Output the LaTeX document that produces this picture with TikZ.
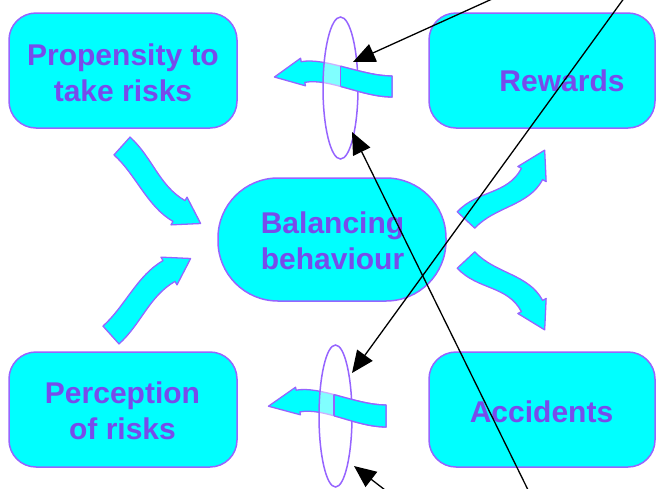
\documentclass[tikz,border=0pt]{standalone}
\usepackage{fontspec}
\setmainfont{Liberation Sans}
\usetikzlibrary{calc,arrows.meta,shapes.geometric}
\definecolor{boxcyan}{RGB}{0,255,255}
\definecolor{edgepurple}{RGB}{150,100,255}
\definecolor{txtpurple}{RGB}{120,75,235}
% #1 tail centre, #2 tail angle, #3 head base centre, #4 head angle,
% #5 head length, #6 body half width, #7 head half width, #8,#9 control lengths
\newcommand{\wavypath}[9]{($(#1)+(#2+90:#6)$) .. controls +(#2:#8) and +(#4+180:#9) .. ($(#3)+(#4+90:#6)$) -- ($(#3)+(#4+90:#7)$) -- ($(#3)+(#4:#5)$) -- ($(#3)+(#4-90:#7)$) -- ($(#3)+(#4-90:#6)$) .. controls +(#4+180:#9) and +(#2:#8) .. ($(#1)+(#2-90:#6)$) -- cycle}
\tikzset{
  box/.style={draw=edgepurple, fill=boxcyan, line width=1.5pt, rounded corners=27pt, inner sep=0pt},
  lbl/.style={text=txtpurple, font=\fontsize{30}{36}\selectfont\bfseries, align=center, inner sep=0pt},
  wavy/.style={draw=edgepurple, fill=boxcyan, line width=1.3pt, line join=round},
  ring/.style={ellipse, draw=edgepurple, line width=1.5pt, fill=white, fill opacity=0.5, inner sep=0pt},
  ptr/.style={draw=black, line width=1.3pt, -{Triangle[length=22pt,width=19pt]}},
}
\begin{document}
\begin{tikzpicture}[x=1pt,y=-1pt]
\clip (0,0) rectangle (656,488);
\fill[white] (0,0) rectangle (656,488);
% boxes
\node[box, minimum width=228pt, minimum height=115pt] (prop) at (123,70.5) {};
\node[box, minimum width=226pt, minimum height=115pt] (rew) at (542,70.5) {};
\node[box, rounded corners=60pt, minimum width=228pt, minimum height=123pt] (bal) at (332,239.5) {};
\node[box, minimum width=228pt, minimum height=115pt] (perc) at (123,409.5) {};
\node[box, minimum width=226pt, minimum height=115pt] (acc) at (542,409.5) {};
% labels
\node[lbl, anchor=north] (propt) at (123,43.3) {Propensity to\\take risks};
\node[lbl, anchor=base] (rewt) at (562,91) {Rewards};
\node[lbl, anchor=north] (balt) at (332.5,211.3) {Balancing\\behaviour};
\node[lbl, anchor=north] (perct) at (122.5,381.3) {Perception\\of risks};
\node[lbl, anchor=base] (acct) at (541.5,422) {Accidents};
% wavy block arrows
\draw[wavy] \wavypath{122,146}{42}{179,211}{30}{25}{12}{16}{30}{30};
\draw[wavy] \wavypath{111,335}{-42}{169,271}{-30}{25}{12}{16}{30}{30};
\draw[wavy] \wavypath{466,220}{-47}{532,174}{-62}{27}{12}{16}{30}{30};
\draw[wavy] \wavypath{466,260}{47}{532,306}{62}{27}{12}{16}{30}{30};
% top filter
\draw[wavy] \wavypath{392,86.5}{180}{303,72}{170}{29}{10.5}{14}{30}{25};
\node[ring, minimum width=35pt, minimum height=142pt] (f1) at (340.5,88) {};
\begin{scope}
  \clip (340.5,0) rectangle (420,200);
  \draw[wavy] \wavypath{392,86.5}{180}{303,72}{170}{29}{10.5}{14}{30}{25};
\end{scope}
\begin{scope}
  \clip \wavypath{392,86.5}{180}{303,72}{170}{29}{10.5}{14}{30}{25};
  \draw[edgepurple, line width=1.3pt] (340.5,40) -- (340.5,130);
\end{scope}
% bottom filter
\draw[wavy] \wavypath{386,416}{180}{298,401}{170}{30}{11}{14}{30}{25};
\node[ring, minimum width=33pt, minimum height=142pt] (f2) at (335.5,416) {};
\begin{scope}
  \clip (334,330) rectangle (420,488);
  \draw[wavy] \wavypath{386,416}{180}{298,401}{170}{30}{11}{14}{30}{25};
\end{scope}
\begin{scope}
  \clip \wavypath{386,416}{180}{298,401}{170}{30}{11}{14}{30}{25};
  \draw[edgepurple, line width=1.3pt] (334,370) -- (334,460);
\end{scope}
% pointer lines
\coordinate (a1s) at (512,-10); \coordinate (a1e) at (353,62);
\coordinate (a2s) at (532,498); \coordinate (a2e) at (352,132);
\coordinate (a3s) at (630,-10); \coordinate (a3e) at (352,373);
\coordinate (a4s) at (398,500); \coordinate (a4e) at (354,466);
\draw[ptr] (a1s) -- (a1e);
\draw[ptr] (a2s) -- (a2e);
\draw[ptr] (a3s) -- (a3e);
\draw[ptr] (a4s) -- (a4e);
\end{tikzpicture}
\end{document}
